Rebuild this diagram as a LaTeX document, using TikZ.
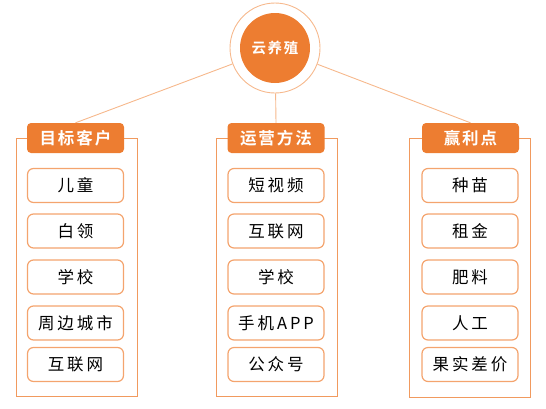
\documentclass[tikz,border=0pt]{standalone}
\usepackage{fontspec}
\setmainfont{Noto Sans CJK SC}
\newfontfamily\cjk[LetterSpace=18]{Noto Sans CJK SC}
\newfontfamily\cjkb[LetterSpace=12]{Noto Sans CJK SC Bold}
\definecolor{hdr}{HTML}{ED7D31}
\definecolor{itm}{HTML}{F4A46E}
\definecolor{box}{HTML}{F19A5E}
\definecolor{lnk}{HTML}{F6B88C}
\begin{document}
\begin{tikzpicture}[x=1pt,y=-1pt,
  hdrbox/.style={fill=hdr,draw=none,rounded corners=4pt,minimum width=97pt,minimum height=30pt,inner sep=0pt,text=white,font=\cjkb\fontsize{16.5}{17}\selectfont},
  itmbox/.style={fill=white,draw=itm,line width=1.2pt,rounded corners=6pt,minimum width=96pt,minimum height=34pt,inner sep=0pt,text=black,font=\cjk\fontsize{16.5}{17}\selectfont},
  contbox/.style={draw=box,line width=1pt},
  link/.style={draw=lnk,line width=0.9pt}]
\useasboundingbox (0,0) rectangle (546,408);
% ring and centre circle
\node[circle,draw=lnk,line width=0.9pt,minimum size=90pt,inner sep=0pt] (ring) at (275,48) {};
\node[circle,fill=hdr,minimum size=70pt,inner sep=0pt,text=white,font=\cjkb\fontsize{14.5}{15}\selectfont] (c) at (275,48) {云养殖};
% containers
\coordinate (Lc1) at (16,138); \coordinate (Lc2) at (137,396);
\coordinate (Mc1) at (216,138); \coordinate (Mc2) at (337,396);
\coordinate (Rc1) at (409,138); \coordinate (Rc2) at (530,397);
\draw[contbox] (Lc1) rectangle (Lc2);
\draw[contbox] (Mc1) rectangle (Mc2);
\draw[contbox] (Rc1) rectangle (Rc2);
% headers
\node[hdrbox] (hL) at (75.5,138) {目标客户};
\node[hdrbox] (hM) at (276,138) {运营方法};
\node[hdrbox] (hR) at (470.5,138) {赢利点};
% links
\draw[link] (ring) -- (hL.north);
\draw[link] (ring) -- (hM.north);
\draw[link] (ring) -- (hR.north);
% items left
\node[itmbox] (l1) at (75.5,185.5) {儿童};
\node[itmbox] (l2) at (75.5,231) {白领};
\node[itmbox] (l3) at (75.5,277) {学校};
\node[itmbox] (l4) at (75.5,323) {周边城市};
\node[itmbox] (l5) at (75.5,364.5) {互联网};
% items middle
\node[itmbox] (m1) at (276,185.5) {短视频};
\node[itmbox] (m2) at (276,231) {互联网};
\node[itmbox] (m3) at (276,277) {学校};
\node[itmbox] (m4) at (276,323) {手机APP};
\node[itmbox] (m5) at (276,364.5) {公众号};
% items right
\node[itmbox] (r1) at (470,185.5) {种苗};
\node[itmbox] (r2) at (470,231) {租金};
\node[itmbox] (r3) at (470,277) {肥料};
\node[itmbox] (r4) at (470,323) {人工};
\node[itmbox] (r5) at (470,364.5) {果实差价};
\end{tikzpicture}
\end{document}
